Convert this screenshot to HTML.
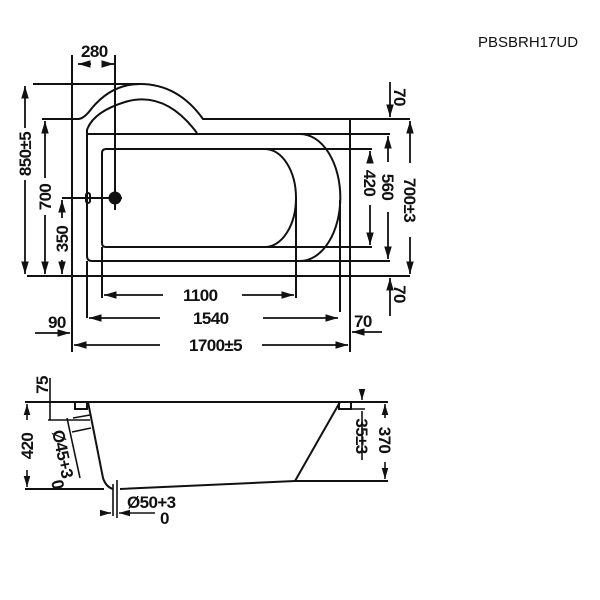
<!DOCTYPE html>
<html><head><style>
html,body{margin:0;padding:0;background:#fff}
svg{display:block}
text{font-family:"Liberation Sans",sans-serif;font-weight:bold;font-size:17px;fill:#111;letter-spacing:-0.6px}
</style></head><body>
<svg width="600" height="600" viewBox="0 0 600 600" xmlns="http://www.w3.org/2000/svg">
<defs>
<marker id="a" viewBox="0 0 10 10" refX="10" refY="5" markerWidth="7" markerHeight="7" orient="auto-start-reverse"><path d="M0,2 L10,5 L0,8z" fill="#111"/></marker>
</defs>
<text x="478" y="47" style="font-weight:normal;font-size:15px;letter-spacing:0">PBSBRH17UD</text>
<g stroke="#111" stroke-width="2" fill="none">
<path d="M42,119 H78 Q84,119 92,108 Q112,84 140,84 Q178,84 203,119 H410"/>
<line x1="33" y1="84" x2="140" y2="84"/>
<line x1="27" y1="276" x2="410" y2="276"/>
<line x1="72" y1="55" x2="72" y2="352"/>
<line x1="350" y1="118" x2="350" y2="352"/>
<path d="M197,133 Q165,90 125,102 Q93,112 87,130 V256 Q87,261 92,261 H300 A40,63 0 0 0 300,134 H87"/>
<line x1="300" y1="134" x2="390" y2="134"/>
<line x1="300" y1="261" x2="390" y2="261"/>
<line x1="340" y1="200" x2="340" y2="312"/>
<line x1="87" y1="261" x2="87" y2="318"/>
<path d="M106,149 H265 A31,49 0 0 1 265,247 H106 Q102,247 102,243 V153 Q102,149 106,149"/>
<line x1="265" y1="149" x2="372" y2="149"/>
<line x1="265" y1="247" x2="372" y2="247"/>
<line x1="296" y1="198" x2="296" y2="298"/>
<line x1="102" y1="247" x2="102" y2="298"/>
<line x1="115" y1="55" x2="115" y2="210"/>
<line x1="62" y1="198" x2="122" y2="198"/>
<rect x="86" y="193" width="4" height="10" rx="2"/>
</g>
<circle cx="115" cy="198" r="6.5" fill="#111"/>
<g stroke="#111" stroke-width="1.8" fill="none">
<line x1="78" y1="64" x2="91" y2="64" marker-start="url(#a)"/>
<line x1="103" y1="64" x2="114" y2="64" marker-end="url(#a)"/>
<line x1="25" y1="86" x2="25" y2="128" marker-start="url(#a)"/>
<line x1="25" y1="180" x2="25" y2="274" marker-end="url(#a)"/>
<line x1="45" y1="121" x2="45" y2="178" marker-start="url(#a)"/>
<line x1="45" y1="215" x2="45" y2="274" marker-end="url(#a)"/>
<line x1="62" y1="200" x2="62" y2="218" marker-start="url(#a)"/>
<line x1="62" y1="260" x2="62" y2="274" marker-end="url(#a)"/>
<line x1="370" y1="151" x2="370" y2="162" marker-start="url(#a)"/>
<line x1="370" y1="205" x2="370" y2="245" marker-end="url(#a)"/>
<line x1="388" y1="136" x2="388" y2="162" marker-start="url(#a)"/>
<line x1="388" y1="212" x2="388" y2="259" marker-end="url(#a)"/>
<line x1="410" y1="121" x2="410" y2="163" marker-start="url(#a)"/>
<line x1="410" y1="237" x2="410" y2="274" marker-end="url(#a)"/>
<line x1="390" y1="82" x2="390" y2="117" marker-end="url(#a)"/>
<line x1="390" y1="316" x2="390" y2="278" marker-end="url(#a)"/>
<line x1="104" y1="295" x2="163" y2="295" marker-start="url(#a)"/>
<line x1="242" y1="295" x2="294" y2="295" marker-end="url(#a)"/>
<line x1="89" y1="318" x2="160" y2="318" marker-start="url(#a)"/>
<line x1="263" y1="318" x2="338" y2="318" marker-end="url(#a)"/>
<line x1="74" y1="345" x2="160" y2="345" marker-start="url(#a)"/>
<line x1="262" y1="345" x2="348" y2="345" marker-end="url(#a)"/>
<line x1="35" y1="333" x2="70" y2="333" marker-end="url(#a)"/>
<line x1="382" y1="332" x2="352" y2="332" marker-end="url(#a)"/>
</g>
<text x="81" y="57">280</text>
<text x="183" y="301">1100</text>
<text x="193" y="324">1540</text>
<text x="189" y="351">1700±5</text>
<text x="48" y="328">90</text>
<text x="354" y="327">70</text>
<text transform="translate(31,154) rotate(-90)" text-anchor="middle">850±5</text>
<text transform="translate(51,197) rotate(-90)" text-anchor="middle">700</text>
<text transform="translate(68,239) rotate(-90)" text-anchor="middle">350</text>
<text transform="translate(364,183) rotate(90)" text-anchor="middle">420</text>
<text transform="translate(382,187) rotate(90)" text-anchor="middle">560</text>
<text transform="translate(404,200) rotate(90)" text-anchor="middle">700±3</text>
<text transform="translate(394,97) rotate(90)" text-anchor="middle">70</text>
<text transform="translate(394,294) rotate(90)" text-anchor="middle">70</text>
<g stroke="#111" stroke-width="2" fill="none">
<line x1="25" y1="402" x2="388" y2="402"/>
<line x1="25" y1="489" x2="104" y2="489"/>
<path d="M88,402 L103,478 Q106,487 113,489"/>
<path d="M120,489 L295,481 H388"/>
<path d="M340,402 L295,481"/>
<rect x="75" y="402" width="12" height="7"/>
<rect x="339" y="402" width="12" height="7"/>
</g>
<g stroke="#111" stroke-width="1.6" fill="none">
<line x1="50" y1="378" x2="50" y2="420"/>
<line x1="48" y1="420" x2="90" y2="420"/>
<line x1="67" y1="418" x2="80" y2="478"/>
<line x1="73" y1="418" x2="90" y2="415"/>
<line x1="72" y1="432" x2="91" y2="428"/>
<line x1="113" y1="484" x2="113" y2="516"/>
<line x1="117" y1="480" x2="117" y2="518"/>
<line x1="338" y1="409" x2="365" y2="409"/>
<line x1="362" y1="411" x2="362" y2="460"/>
<line x1="362" y1="390" x2="362" y2="400" marker-end="url(#a)"/>
<line x1="27" y1="404" x2="27" y2="420" marker-start="url(#a)"/>
<line x1="27" y1="470" x2="27" y2="487" marker-end="url(#a)"/>
<line x1="385" y1="404" x2="385" y2="418" marker-start="url(#a)"/>
<line x1="385" y1="462" x2="385" y2="479" marker-end="url(#a)"/>
<line x1="100" y1="513" x2="111" y2="513" marker-end="url(#a)"/>
<line x1="155" y1="513" x2="119" y2="513" marker-end="url(#a)"/>
</g>
<text transform="translate(48,385) rotate(-90)" text-anchor="middle">75</text>
<text transform="translate(33,446) rotate(-90)" text-anchor="middle">420</text>
<text transform="translate(356,436) rotate(90)" text-anchor="middle">35±3</text>
<text transform="translate(379,440) rotate(90)" text-anchor="middle">370</text>
<text transform="translate(57,455) rotate(78)" text-anchor="middle">Ø45+3</text>
<text x="52" y="490" transform="rotate(78,57,485)">0</text>
<text x="127" y="508">Ø50+3</text>
<text x="160" y="524">0</text>
</svg>
</body></html>
